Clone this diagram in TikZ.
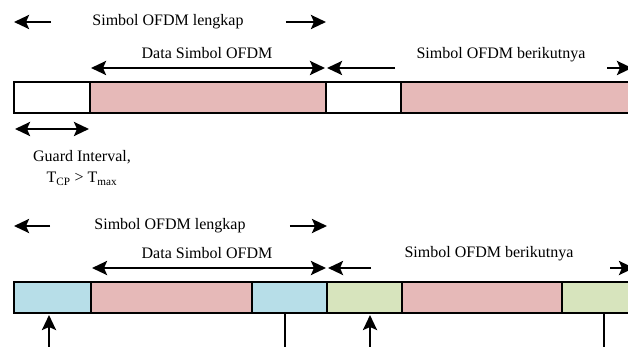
\documentclass[tikz,border=0pt]{standalone}
\usepackage{fontspec}
\setmainfont{Liberation Serif}
\usetikzlibrary{arrows.meta,positioning}

\definecolor{datapink}{HTML}{E6B9B8}
\definecolor{cpblue}{HTML}{B7DEE8}
\definecolor{cpgreen}{HTML}{D7E4BD}

\begin{document}
\begin{tikzpicture}[
    x=1pt, y=-1pt,
    seg/.style={draw,line width=2pt,minimum height=31pt,inner sep=0pt,outer sep=0pt,anchor=west},
    lbl/.style={font=\fontsize{16}{19}\selectfont,inner sep=0pt},
    head/.tip={Stealth[length=15pt,width=14pt,inset=3pt]},
    onehead/.style={line width=2.6pt,-head},
    span/.style={line width=2.6pt,head-head,shorten <=1pt,shorten >=1pt},
    feet/.style={line width=2pt}
    ]
    \useasboundingbox (0,0) rectangle (628,347);
    \clip (0,0) rectangle (628,347);

    % upper row: symbols with an empty guard interval
    \node[seg,minimum width=76pt] (cp1) at (14,97.5) {};
    \node[seg,fill=datapink,minimum width=236pt,right=0pt of cp1] (d1) {};
    \node[seg,minimum width=75pt,right=0pt of d1] (cp2) {};
    \node[seg,fill=datapink,minimum width=240pt,right=0pt of cp2] (d2) {};

    \node[lbl] (full1) at (168,22) {Simbol OFDM lengkap};
    \draw[onehead] ([xshift=-41pt]full1.west) -- (cp1.west |- full1.west);
    \draw[onehead] ([xshift=42pt]full1.east) -- (d1.east |- full1.east);

    \node[lbl] (data1) at (207,53) {Data Simbol OFDM};
    \draw[span] ([yshift=14pt]d1.north west) -- ([yshift=14pt]d1.north east);

    \node[lbl] (next1) at (501,55) {Simbol OFDM berikutnya};
    \draw[onehead] ([xshift=69pt,yshift=14pt]cp2.north west) -- ([xshift=1pt,yshift=14pt]cp2.north west);
    \draw[onehead] ([xshift=206pt,yshift=14pt]d2.north west) -- ([xshift=231pt,yshift=14pt]d2.north west);

    \draw[span] ([yshift=-16pt]cp1.south west) -- ([yshift=-16pt]cp1.south east);
    \node[lbl,align=center] (guard) at (82,168)
        {Guard Interval,\\[2pt] T\textsubscript{CP} > T\textsubscript{max}};

    % lower row: cyclic prefix copied from the tail of each symbol
    \node[seg,fill=cpblue,minimum width=77pt] (cp3) at (14,297.5) {};
    \node[seg,fill=datapink,minimum width=161pt,right=0pt of cp3] (d3) {};
    \node[seg,fill=cpblue,minimum width=75pt,right=0pt of d3] (tail3) {};
    \node[seg,fill=cpgreen,minimum width=75pt,right=0pt of tail3] (cp4) {};
    \node[seg,fill=datapink,minimum width=160pt,right=0pt of cp4] (d4) {};
    \node[seg,fill=cpgreen,minimum width=80pt,right=0pt of d4] (tail4) {};

    \node[lbl] (full2) at (170,226) {Simbol OFDM lengkap};
    \draw[onehead] ([xshift=-44pt]full2.west) -- (cp3.west |- full2.west);
    \draw[onehead] ([xshift=44pt]full2.east) -- (tail3.east |- full2.east);

    \node[lbl] (data2) at (207,253) {Data Simbol OFDM};
    \draw[span] ([yshift=14pt]d3.north west) -- ([yshift=14pt]tail3.north east);

    \node[lbl] (next2) at (489,254) {Simbol OFDM berikutnya};
    \draw[onehead] ([xshift=44pt,yshift=14pt]cp4.north west) -- ([xshift=1pt,yshift=14pt]cp4.north west);
    \draw[onehead] ([xshift=48pt,yshift=14pt]d4.north east) -- ([xshift=72pt,yshift=14pt]d4.north east);

    \coordinate (f1) at (49,347);
    \coordinate (f2) at (285,347);
    \coordinate (f3) at (370,347);
    \coordinate (f4) at (604,347);
    \draw[onehead] (f1) -- ([yshift=-2pt]f1 |- cp3.south);
    \draw[feet] (f2) -- (f2 |- tail3.south);
    \draw[onehead] (f3) -- ([yshift=-2pt]f3 |- cp4.south);
    \draw[feet] (f4) -- (f4 |- tail4.south);
\end{tikzpicture}
\end{document}
